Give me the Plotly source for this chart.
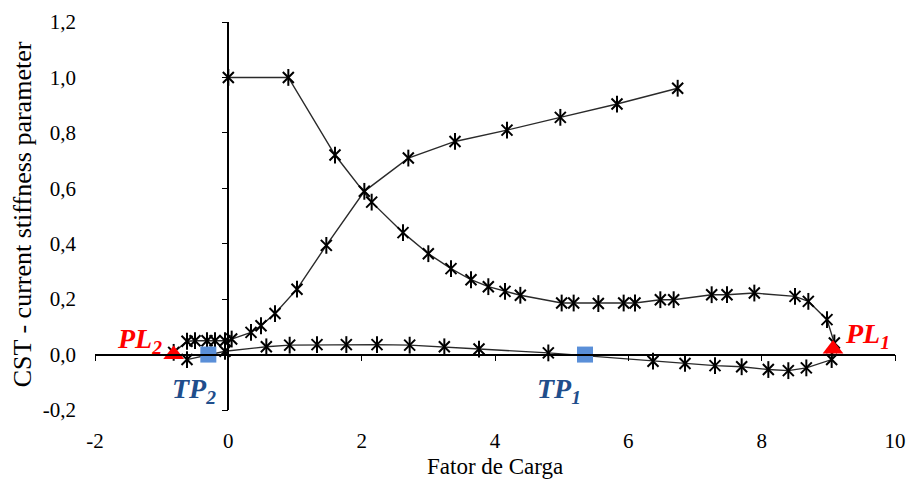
import plotly.graph_objects as go

# ---- data ----
# Curve 1: starts at CST = 1.0, goes round the loop through PL1, TP1, TP2
curve1_x = [0.00, 0.90, 1.60, 2.15, 2.62, 3.00, 3.34, 3.64, 3.90, 4.15, 4.38,
            5.00, 5.18, 5.55, 5.93, 6.10, 6.48, 6.68, 7.25, 7.48, 7.89, 8.50,
            8.70, 8.98, 9.09, 9.05, 8.67, 8.40, 8.10, 7.70, 7.30, 6.85, 6.37,
            4.80, 3.76, 3.24, 2.72, 2.23, 1.77, 1.33, 0.92, 0.57, -0.05, -0.62]
curve1_y = [1.000, 1.000, 0.720, 0.550, 0.440, 0.364, 0.310, 0.270, 0.245, 0.228, 0.214,
            0.186, 0.186, 0.184, 0.186, 0.186, 0.198, 0.198, 0.216, 0.216, 0.222, 0.210,
            0.192, 0.126, 0.042, -0.018, -0.048, -0.058, -0.054, -0.044, -0.040, -0.032, -0.024,
            0.006, 0.020, 0.028, 0.034, 0.036, 0.036, 0.036, 0.034, 0.028, 0.012, -0.018]

# Curve 2: starts near PL2 and rises to about 0.96
curve2_x = [-0.82, -0.62, -0.50, -0.32, -0.20, -0.05, 0.05, 0.34, 0.49, 0.70, 1.03,
            1.47, 2.04, 2.70, 3.40, 4.18, 4.98, 5.83, 6.74]
curve2_y = [0.008, 0.048, 0.050, 0.050, 0.050, 0.050, 0.056, 0.080, 0.104, 0.148, 0.236,
            0.394, 0.589, 0.709, 0.769, 0.810, 0.856, 0.904, 0.961]

# Limit points (PL) and turning points (TP)
pl_labels = ["PL<sub>1</sub>", "PL<sub>2</sub>"]
pl_x = [9.07, -0.82]
pl_y = [0.020, 0.000]
tp_labels = ["TP<sub>1</sub>", "TP<sub>2</sub>"]
tp_x = [5.35, -0.30]
tp_y = [0.000, 0.000]

x_ticks = [-2, 0, 2, 4, 6, 8, 10]
x_ticktext = ["-2", "0", "2", "4", "6", "8", "10"]
y_ticks = [-0.2, 0.0, 0.2, 0.4, 0.6, 0.8, 1.0, 1.2]
y_ticktext = ["-0,2", "0,0", "0,2", "0,4", "0,6", "0,8", "1,0", "1,2"]

x_title = "Fator de Carga"
y_title = "CST - current stiffness parameter"

FONT = "Liberation Serif, Times New Roman, serif"
LINE_C = "#2a2a2a"

fig = go.Figure()

for cx, cy in [(curve1_x, curve1_y), (curve2_x, curve2_y)]:
    fig.add_trace(go.Scatter(
        x=cx, y=cy, mode="lines+markers",
        line=dict(color=LINE_C, width=1.4),
        marker=dict(symbol="x-thin-open", size=11, color="black",
                    line=dict(color="black", width=2)),
        showlegend=False, hoverinfo="skip"))
    fig.add_trace(go.Scatter(
        x=cx, y=cy, mode="markers",
        marker=dict(symbol="line-ns-open", size=12, color="black",
                    line=dict(color="black", width=2)),
        showlegend=False, hoverinfo="skip"))

fig.add_trace(go.Scatter(
    x=tp_x, y=tp_y, mode="markers",
    marker=dict(symbol="square", size=16, color="#5a8fd8"),
    showlegend=False, hoverinfo="skip"))
fig.add_trace(go.Scatter(
    x=pl_x, y=pl_y, mode="markers",
    marker=dict(symbol="triangle-up", size=18, color="#ff0000"),
    showlegend=False, hoverinfo="skip"))

# labels for the special points
fig.add_annotation(x=pl_x[0], y=pl_y[0], text="<b><i>" + pl_labels[0] + "</i></b>",
                   showarrow=False, xanchor="left", yanchor="middle",
                   xshift=10, yshift=14, font=dict(family=FONT, size=28, color="#ff0000"))
fig.add_annotation(x=pl_x[1], y=pl_y[1], text="<b><i>" + pl_labels[1] + "</i></b>",
                   showarrow=False, xanchor="right", yanchor="middle",
                   xshift=-10, yshift=14, font=dict(family=FONT, size=28, color="#ff0000"))
fig.add_annotation(x=tp_x[0], y=tp_y[0], text="<b><i>" + tp_labels[0] + "</i></b>",
                   showarrow=False, xanchor="right", yanchor="top",
                   xshift=-2, yshift=-16, font=dict(family=FONT, size=28, color="#1f4e8c"))
fig.add_annotation(x=tp_x[1], y=tp_y[1], text="<b><i>" + tp_labels[1] + "</i></b>",
                   showarrow=False, xanchor="right", yanchor="top",
                   xshift=10, yshift=-16, font=dict(family=FONT, size=28, color="#1f4e8c"))

# axis titles
fig.add_annotation(xref="paper", yref="paper", x=0.50, y=-0.145, text=x_title,
                   showarrow=False, xanchor="center", yanchor="middle",
                   font=dict(family=FONT, size=23, color="black"))
fig.add_annotation(xref="paper", yref="paper", x=-0.091, y=0.505, text=y_title,
                   showarrow=False, xanchor="center", yanchor="middle", textangle=-90,
                   font=dict(family=FONT, size=26, color="black"))

# invisible trace so the crossing axes are built
fig.add_trace(go.Scatter(x=[None], y=[None], xaxis="x2", yaxis="y2",
                         showlegend=False, hoverinfo="skip"))

fig.update_layout(
    width=908, height=482,
    margin=dict(l=95, r=13, t=22, b=72, autoexpand=False),
    paper_bgcolor="white", plot_bgcolor="white",
    font=dict(family=FONT, size=21, color="black"),
    xaxis=dict(range=[-2, 10], tickvals=x_ticks, ticktext=x_ticktext,
               showgrid=False, zeroline=False, showline=False, ticks="",
               ticklabelstandoff=16, automargin=False),
    yaxis=dict(range=[-0.2, 1.2], tickvals=y_ticks, ticktext=y_ticktext,
               showgrid=False, zeroline=False, showline=False, ticks="",
               ticklabelstandoff=18, automargin=False),
    xaxis2=dict(overlaying="x", anchor="free", position=1/7, range=[-2, 10],
                tickvals=x_ticks, showticklabels=False, showgrid=False, zeroline=False,
                showline=True, linecolor="black", linewidth=1.5, automargin=False,
                ticks="outside", ticklen=6, tickwidth=1.3, tickcolor="black"),
    yaxis2=dict(overlaying="y", anchor="free", position=1/6, range=[-0.2, 1.2],
                tickvals=y_ticks, showticklabels=False, showgrid=False, zeroline=False,
                showline=True, linecolor="black", linewidth=1.5, automargin=False,
                ticks="outside", ticklen=6, tickwidth=1.3, tickcolor="black"),
)

fig.write_html("out.html",
               config={"displayModeBar": False},
               post_script="document.body.style.margin='0';document.body.style.overflow='hidden';")
